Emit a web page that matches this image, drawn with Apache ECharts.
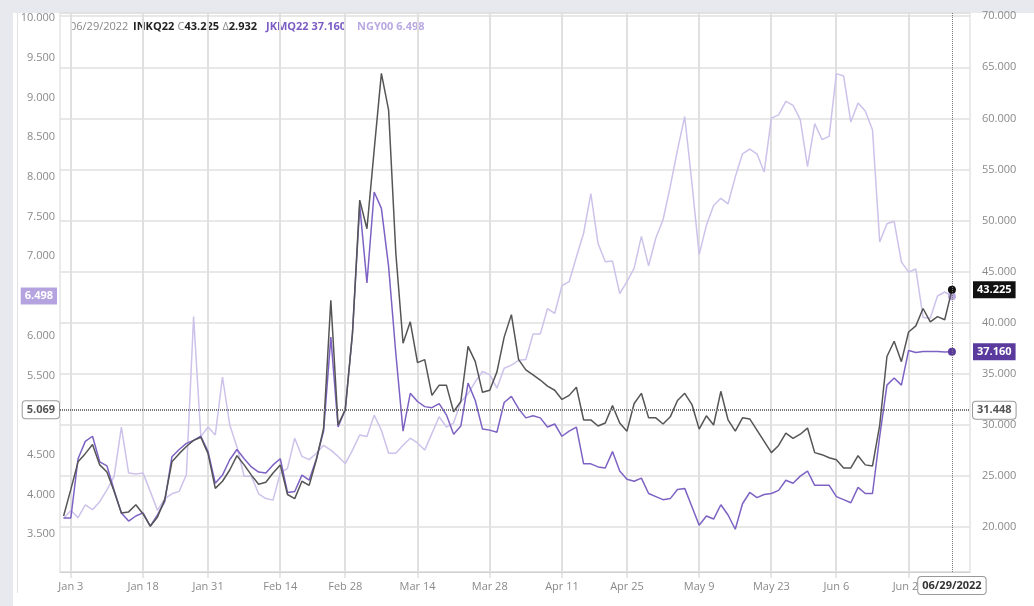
<!DOCTYPE html>
<html lang="en">
<head>
    <meta charset="UTF-8">
    <title>INKQ22 / JKMQ22 / NGY00</title>
    <script src="https://cdn.jsdelivr.net/npm/echarts@6/dist/echarts.min.js"></script>
    <style>
        body { margin: 0; background: #e8e9ee; }
        #panel { position: absolute; left: 13px; top: 13px; right: 0; bottom: 0; background: #fff; }
        #edge { position: absolute; left: 17px; top: 13px; width: 1px; height: 580px; background: #e2e2e2; }
        #myChart { position: absolute; left: 0; top: 0; width: 1034px; height: 606px; }
    </style>
</head>
<body>
    <div id="panel"></div>
    <div id="edge"></div>
    <div id="myChart"></div>
    <script>
        // 交易日 (Dec 31 2021 起, 去掉周末和假日), 最后两天是空白
        const holidays = ['2022-01-17', '2022-02-21', '2022-04-15', '2022-05-30', '2022-06-20'];
        const monthNames = ['Jan', 'Feb', 'Mar', 'Apr', 'May', 'Jun', 'Jul', 'Aug', 'Sep', 'Oct', 'Nov', 'Dec'];
        const days = [];
        for (let t = Date.UTC(2021, 11, 31); days.length < 126; t += 86400000) {
            const d = new Date(t);
            const wd = d.getUTCDay();
            if (wd === 0 || wd === 6) continue;
            if (holidays.includes(d.toISOString().slice(0, 10))) continue;
            days.push(monthNames[d.getUTCMonth()] + ' ' + d.getUTCDate());
        }

        // x 轴刻度标签
        const tickLabels = ['Jan 3', 'Jan 18', 'Jan 31', 'Feb 14', 'Feb 28', 'Mar 14', 'Mar 28',
            'Apr 11', 'Apr 25', 'May 9', 'May 23', 'Jun 6', 'Jun 21'];

        // INKQ22 (右轴)
        const inkq22 = [
            21.1, 23.7, 26.4, 27.2, 28.1, 26.1, 25.4, 23.5, 21.4, 21.5,
            22.2, 21.3, 20.1, 21.0, 22.7, 26.4, 27.2, 27.9, 28.5, 28.8,
            27.2, 23.8, 24.5, 25.6, 27.0, 26.1, 25.1, 24.2, 24.4, 25.3,
            26.1, 23.2, 22.8, 24.5, 24.1, 26.6, 29.7, 42.2, 30.0, 31.5,
            39.0, 52.0, 49.2, 56.9, 64.4, 60.8, 46.8, 38.0, 40.1, 36.1,
            36.4, 32.9, 33.9, 33.9, 31.3, 32.3, 37.7, 36.2, 33.2, 33.4,
            35.2, 38.6, 40.8, 36.4, 35.4, 34.9, 34.4, 33.8, 33.4, 32.5,
            32.9, 33.7, 30.5, 30.5, 29.9, 30.2, 31.9, 30.2, 29.4, 32.1,
            33.1, 30.7, 30.7, 30.1, 30.8, 32.4, 33.1, 32.0, 29.6, 30.9,
            30.0, 33.3, 30.5, 29.4, 30.7, 30.6, 29.5, 28.4, 27.3, 28.0,
            29.2, 28.7, 29.1, 29.7, 27.3, 27.1, 26.8, 26.6, 25.8, 25.8,
            27.0, 26.1, 26.0, 30.0, 36.7, 38.2, 36.2, 39.1, 39.7, 41.4,
            40.1, 40.6, 40.3, 43.225
        ];

        // JKMQ22 (右轴)
        const jkmq22 = [
            20.9, 20.9, 26.7, 28.4, 28.9, 26.4, 26.0, 23.6, 21.4, 20.6,
            21.1, 21.4, 20.1, 21.2, 22.5, 26.9, 27.6, 28.2, 28.5, 28.9,
            27.4, 24.3, 25.1, 26.6, 27.6, 26.7, 25.9, 25.4, 25.3, 26.1,
            26.7, 23.4, 23.5, 25.1, 24.6, 26.7, 29.4, 38.6, 29.8, 31.5,
            39.0, 51.5, 43.9, 52.8, 51.2, 45.5, 37.0, 29.4, 33.1, 32.3,
            31.8, 31.7, 32.1, 31.0, 29.1, 29.9, 34.1, 32.4, 29.6, 29.5,
            29.3, 32.2, 32.8, 31.6, 30.7, 30.9, 30.7, 29.8, 30.1, 28.9,
            29.4, 29.8, 26.2, 26.2, 25.9, 25.8, 27.4, 25.5, 24.7, 24.5,
            24.8, 23.3, 23.0, 22.7, 22.8, 23.7, 23.8, 22.0, 20.2, 21.1,
            20.8, 22.2, 21.2, 19.8, 22.3, 23.4, 22.9, 23.2, 23.3, 23.6,
            24.6, 24.3, 25.0, 25.5, 24.1, 24.1, 24.1, 23.0, 22.7, 22.4,
            23.9, 23.3, 23.3, 28.9, 33.9, 34.6, 33.9, 37.3, 37.1, 37.2,
            37.2, 37.2, 37.15, 37.16
        ];

        // NGY00 (左轴)
        const ngy00 = [
            3.70, 3.80, 3.71, 3.87, 3.81, 3.91, 4.06, 4.23, 4.85, 4.27,
            4.26, 4.27, 4.04, 3.80, 3.95, 4.01, 4.04, 4.25, 6.24, 4.73,
            4.85, 4.75, 5.48, 4.88, 4.60, 4.23, 4.23, 4.01, 3.95, 3.93,
            4.27, 4.33, 4.71, 4.48, 4.44, 4.52, 4.62, 4.56, 4.48, 4.39,
            4.56, 4.75, 4.73, 5.00, 4.81, 4.52, 4.52, 4.62, 4.71, 4.65,
            4.56, 4.77, 4.98, 4.85, 4.90, 5.17, 5.27, 5.42, 5.55, 5.51,
            5.34, 5.59, 5.63, 5.69, 5.70, 6.02, 6.02, 6.34, 6.28, 6.63,
            6.68, 6.99, 7.29, 7.79, 7.16, 6.93, 6.94, 6.53, 6.68, 6.85,
            7.25, 6.88, 7.23, 7.46, 7.88, 8.34, 8.76, 7.92, 7.02, 7.39,
            7.64, 7.73, 7.66, 8.00, 8.29, 8.35, 8.29, 8.06, 8.74, 8.78,
            8.95, 8.90, 8.72, 8.13, 8.67, 8.47, 8.51, 9.30, 9.27, 8.69,
            8.93, 8.83, 8.59, 7.18, 7.41, 7.44, 6.93, 6.80, 6.84, 6.23,
            6.22, 6.50, 6.55, 6.498
        ];

        const lastIdx = inkq22.length - 1;
        const cursorLeft = 5.069;
        const cursorRight = 31.448;
        const rightMin = 15.62, rightMax = 70.31;
        const font = '"Open Sans", sans-serif';
        const clear = 'rgba(0,0,0,0)';
        const tickIdx = tickLabels.map(function (d) { return days.indexOf(d); });

        var myChart = echarts.init(document.getElementById('myChart'));

        function endDot(v, p) {
            return p.dataIndex === lastIdx ? 8 : 0;
        }
        function onTick(i) {
            return tickIdx.indexOf(i) >= 0;
        }
        function fmtEvery(step) {
            return function (v) {
                const r = v / step;
                return Math.abs(r - Math.round(r)) < 1e-6 ? v.toFixed(3) : '';
            };
        }
        // 轴上的数值标签
        function tag(value, text, bg, pos) {
            return {
                yAxis: value,
                lineStyle: { color: clear, width: 1 },
                label: {
                    show: true, position: pos, formatter: text, backgroundColor: bg, color: '#fff',
                    fontWeight: 'bold', fontSize: 11, fontFamily: font, padding: [3, 4], distance: 3
                }
            };
        }

        // 顶部图例文字
        const header = [
            { type: 'text', left: 70, top: 21, style: { text: '06/29/2022', fill: '#888', font: '11px ' + font } },
            {
                type: 'text', left: 133, top: 21, style: {
                    text: '{b|INKQ22} {g|C}{b|43.225} {g|Δ}{b|2.932}',
                    rich: {
                        b: { fill: '#222', fontWeight: 'bold', fontSize: 11, fontFamily: font },
                        g: { fill: '#888', fontSize: 11, fontFamily: font }
                    }
                }
            },
            { type: 'text', left: 266, top: 21, style: { text: 'JKMQ22 37.160', fill: '#7b5cc4', font: 'bold 11px ' + font } },
            { type: 'text', left: 357, top: 21, style: { text: 'NGY00 6.498', fill: '#b9a9e2', font: 'bold 11px ' + font } }
        ];

        const option = {
            animation: false,
            textStyle: { fontFamily: font },
            grid: {
                left: 60, right: 64, top: 13, bottom: 34, show: true,
                backgroundColor: 'transparent', borderColor: '#d6d6d6', borderWidth: 1
            },
            graphic: header,
            xAxis: {
                type: 'category',
                data: days,
                boundaryGap: true,
                axisLine: { lineStyle: { color: '#d0d0d0' } },
                axisTick: { show: false },
                axisLabel: { color: '#8a8a8a', fontSize: 11, margin: 9, interval: onTick },
                splitLine: { show: false },
                axisPointer: {
                    show: true, status: 'show', value: lastIdx, snap: false, triggerTooltip: false,
                    lineStyle: { color: '#777', type: 'dotted', width: 1 },
                    label: {
                        show: true, formatter: '06/29/2022', backgroundColor: '#fff', borderColor: '#999', borderWidth: 1,
                        color: '#333', fontWeight: 'bold', fontSize: 11, fontFamily: font, padding: [3, 4], margin: 5
                    }
                }
            },
            yAxis: [
                {
                    type: 'value', position: 'left', min: 3.025, max: 10.063,
                    splitNumber: 14, minInterval: 0.5, maxInterval: 0.5,
                    axisLine: { show: false }, axisTick: { show: false },
                    axisLabel: { color: '#8a8a8a', fontSize: 11, margin: 5, formatter: fmtEvery(0.5) },
                    splitLine: { show: false },
                    axisPointer: {
                        show: true, status: 'show', value: cursorLeft, snap: false, triggerTooltip: false,
                        lineStyle: { color: '#777', type: 'dotted', width: 1 },
                        label: {
                            show: true, formatter: function (p) { return p.value.toFixed(3); },
                            backgroundColor: '#fff', borderColor: '#999', borderWidth: 1,
                            color: '#555', fontWeight: 'bold', fontSize: 11, fontFamily: font, padding: [3, 4], margin: 1
                        }
                    }
                },
                {
                    type: 'value', position: 'right', min: rightMin, max: rightMax,
                    splitNumber: 11, minInterval: 5, maxInterval: 5,
                    axisLine: { show: false }, axisTick: { show: false },
                    axisLabel: { color: '#8a8a8a', fontSize: 11, margin: 12, formatter: fmtEvery(5) },
                    splitLine: { show: true, lineStyle: { color: '#e0e0e0', width: 1.5 } },
                    axisPointer: {
                        show: true, status: 'show', value: cursorRight, snap: false, triggerTooltip: false,
                        lineStyle: { color: '#777', type: 'dotted', width: 1 },
                        label: {
                            show: true, formatter: function (p) { return p.value.toFixed(3); },
                            backgroundColor: '#fff', borderColor: '#999', borderWidth: 1,
                            color: '#555', fontWeight: 'bold', fontSize: 11, fontFamily: font, padding: [3, 4], margin: 3
                        }
                    }
                }
            ],
            series: [
                {
                    name: 'NGY00', type: 'line', yAxisIndex: 0, data: ngy00, z: 3,
                    symbol: 'circle', symbolSize: endDot, showAllSymbol: true,
                    lineStyle: { color: '#cdc2ea', width: 1.5 }, itemStyle: { color: '#b9a9e2' },
                    markLine: { silent: true, symbol: ['none', 'none'], data: [tag(6.498, '6.498', '#b5a3e0', 'start')] }
                },
                {
                    name: 'JKMQ22', type: 'line', yAxisIndex: 1, data: jkmq22, z: 4,
                    symbol: 'circle', symbolSize: endDot, showAllSymbol: true,
                    lineStyle: { color: '#7d62c4', width: 1.5 }, itemStyle: { color: '#5b3a9e' },
                    markLine: { silent: true, symbol: ['none', 'none'], data: [tag(37.16, '37.160', '#5b3a9e', 'end')] }
                },
                {
                    name: 'INKQ22', type: 'line', yAxisIndex: 1, data: inkq22, z: 5,
                    symbol: 'circle', symbolSize: endDot, showAllSymbol: true,
                    lineStyle: { color: '#555555', width: 1.5 }, itemStyle: { color: '#111' },
                    markLine: { silent: true, symbol: ['none', 'none'], data: [tag(43.225, '43.225', '#111', 'end')] }
                }
            ]
        };

        myChart.setOption(option);

        // 竖直网格线和 x 轴刻度: 位置由类目轴换算, 用细矩形画
        const yTop = myChart.convertToPixel({ yAxisIndex: 1 }, rightMax);
        const yBottom = myChart.convertToPixel({ yAxisIndex: 1 }, rightMin);
        const gridLines = [];
        tickIdx.forEach(function (i) {
            const x = Math.round(myChart.convertToPixel({ xAxisIndex: 0 }, i));
            gridLines.push({
                type: 'rect', z: 1, silent: true,
                shape: { x: x - 1, y: yTop, width: 2, height: yBottom - yTop },
                style: { fill: '#e0e0e0' }
            });
            gridLines.push({
                type: 'rect', z: 1, silent: true,
                shape: { x: x - 0.5, y: yBottom, width: 1, height: 6 },
                style: { fill: '#d0d0d0' }
            });
        });
        myChart.setOption({ graphic: header.concat(gridLines) });
    </script>
</body>
</html>
